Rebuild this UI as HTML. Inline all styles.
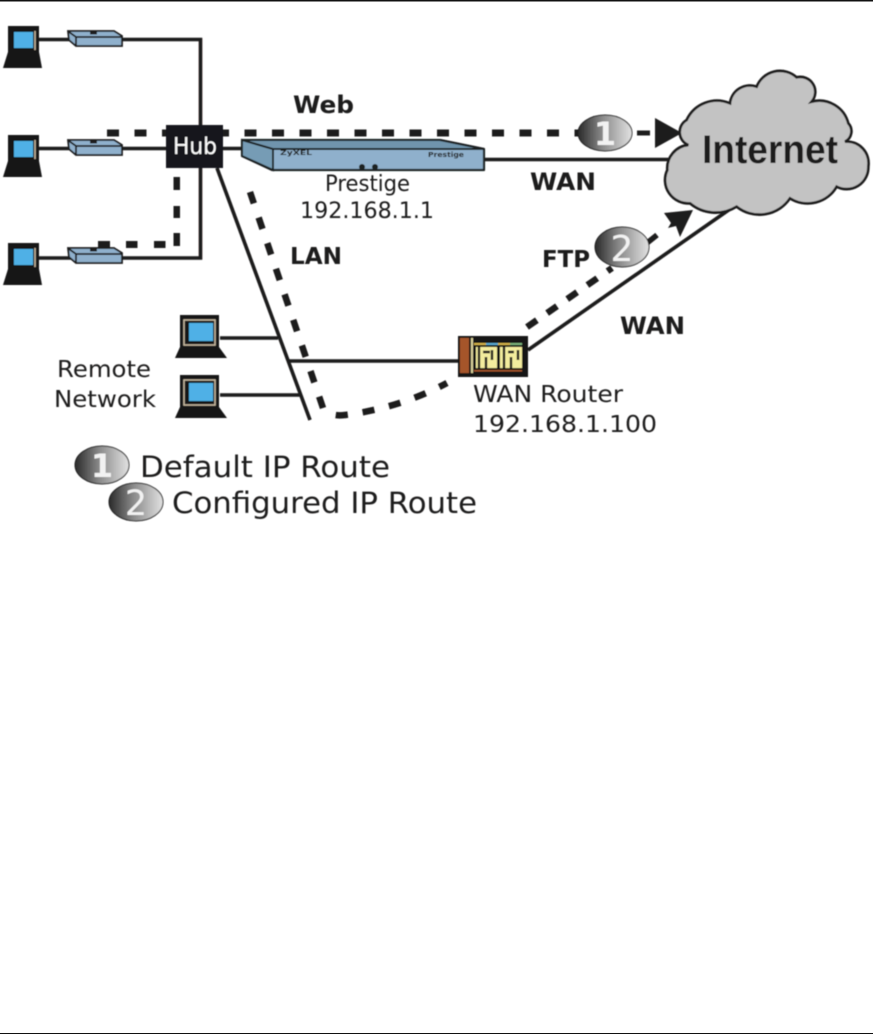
<!DOCTYPE html>
<html><head><meta charset="utf-8"><style>
html,body{margin:0;padding:0;background:#fff}
svg{display:block}
text{font-family:"DejaVu Sans","Liberation Sans",sans-serif;fill:#1c1a1a}
.b{font-weight:bold}
</style></head><body>
<svg width="873" height="1034" viewBox="0 0 873 1034" xmlns="http://www.w3.org/2000/svg">
<defs>
<filter id="s" x="-2%" y="-2%" width="104%" height="104%"><feGaussianBlur stdDeviation="0.4"/></filter>
<linearGradient id="ball" x1="0" x2="1" y1="0" y2="0"><stop offset="0" stop-color="#2a2a2a"/><stop offset="0.45" stop-color="#8a8a8a"/><stop offset="1" stop-color="#e2e2e2"/></linearGradient>
<g id="lap">
<path d="M8,26H39V52L42,68H3L8,52Z" fill="#141416"/>
<rect x="14" y="32" width="19" height="16" fill="#4fb0e6"/>
<path d="M35,31V50" stroke="#c8b9a0" stroke-width="1.5"/>
</g>
<g id="mod">
<path d="M68,31H114L122,36V46H76L69,40Z" fill="#8fb0cc" stroke="#1c1c1e" stroke-width="1.8"/>
<path d="M69,32L76,37H122M76,37V46" fill="none" stroke="#1c1c1e" stroke-width="1.8"/>
<rect x="90" y="31" width="7" height="3.5" fill="#1c1c1e"/>
</g>
<g id="bigl">
<path d="M5,0H44V32L52,43H0L5,32Z" fill="#141416"/>
<rect x="9" y="5" width="31" height="25" fill="none" stroke="#c8b9a0" stroke-width="1.5"/>
<rect x="14" y="8" width="24" height="18" fill="#4fb0e6"/>
</g>
</defs>
<rect width="873" height="1034" fill="#fff"/>
<rect x="0" y="0" width="873" height="1.5" fill="#111"/>
<rect x="0" y="1033" width="873" height="1" fill="#111"/>
<g filter="url(#s)">
<!-- solid links -->
<g fill="none" stroke="#1c1a1a" stroke-width="3.6">
<path d="M38,39.5H200.5V258H38"/>
<path d="M38,148.5H242"/>
<path d="M484,159.5H672"/>
<path d="M217,168L310,420"/>
<path d="M220,338H278"/>
<path d="M220,395H300"/>
<path d="M288,361H460"/>
<path d="M528,350L733,207"/>
</g>
<!-- dashed routes -->
<g fill="none" stroke="#1c1a1a" stroke-width="7">
<path d="M107,133H590" stroke-dasharray="12 15.5"/>
<path d="M637,133H650" stroke-width="5"/>
<path d="M250,192L323,408Q330,417 345,415Q400,408 447,383" stroke-dasharray="12 15" stroke-width="6.5"/>
<path d="M527,327L612,268" stroke-dasharray="12 12.5" stroke-width="6.5"/>
<path d="M647,243L657,235" stroke-width="5.5"/>
</g>
<g fill="#1c1a1a">
<rect x="173.500" y="177" width="6.5" height="13"/>
<rect x="173.500" y="206" width="6.5" height="12"/>
<rect x="173.500" y="233" width="6.5" height="13"/>
<rect x="126" y="241" width="11.500" height="7"/>
<rect x="154" y="241" width="11.500" height="7"/>
<rect x="98" y="241" width="12" height="9"/>
</g>
<path d="M655,118L682,133L655,148Z" fill="#1c1a1a"/>
<path d="M693,210L664,213L671,223L668,228L676,226L680,237Z" fill="#1c1a1a"/>
<!-- laptops -->
<use href="#lap"/>
<use href="#lap" y="109"/>
<use href="#lap" y="217"/>
<use href="#bigl" x="175" y="315"/>
<use href="#bigl" x="175" y="375"/>
<!-- modems -->
<use href="#mod"/>
<use href="#mod" y="109"/>
<use href="#mod" y="217"/>
<!-- hub -->
<rect x="166" y="125" width="57" height="43" fill="#14181a"/>
<text x="173" y="154" font-size="23" textLength="44" lengthAdjust="spacingAndGlyphs" style="fill:#fff">Hub</text>
<!-- Prestige -->
<path d="M242,140H440L484,149V170H272L242,156Z" fill="#8fb0cc" stroke="#1c2024" stroke-width="2.2" stroke-linejoin="round"/>
<path d="M242,140H440L484,149H273Z" fill="#6f94ad"/>
<path d="M242,140L273,149V170L242,156Z" fill="#769cb5" stroke="#1c2024" stroke-width="2"/>
<path d="M242,140H440L484,149H273" fill="none" stroke="#1c2024" stroke-width="2"/>
<circle cx="362" cy="167" r="3" fill="#1c2024"/>
<circle cx="375" cy="167" r="3" fill="#1c2024"/>
<text x="280" y="155" font-size="7" class="b" textLength="32" lengthAdjust="spacingAndGlyphs" style="fill:#222">ZyXEL</text>
<text x="428" y="157" font-size="7" class="b" textLength="36" lengthAdjust="spacingAndGlyphs" style="fill:#222">Prestige</text>
<!-- cloud -->
<g transform="translate(570,70) scale(0.3333)">
<path d="M292,300A70,70 0 0 1 355,225A42,42 0 0 1 350,150A100,100 0 0 1 480,100A60,60 0 0 1 560,50A75,75 0 0 1 680,22A45,45 0 0 1 725,95A90,90 0 0 1 835,160A35,35 0 0 1 825,215A65,65 0 0 1 895,290A65,65 0 0 1 800,350A100,100 0 0 1 660,385A110,110 0 0 1 500,410A120,120 0 0 1 360,400A70,70 0 0 1 292,300Z" fill="#c3c3c3" stroke="#1c1a1a" stroke-width="8"/>
</g>
<text x="702" y="163" font-size="40" textLength="136" lengthAdjust="spacingAndGlyphs" style="font-family:'Liberation Sans',sans-serif;font-weight:bold">Internet</text>
<!-- router -->
<rect x="458" y="336" width="70" height="41" fill="#141416"/>
<rect x="460" y="338" width="9" height="35" fill="#a5552b"/>
<rect x="471" y="338" width="2" height="35" fill="#d8cf9a"/>
<rect x="474" y="343" width="12" height="2" fill="#d2b04a"/>
<rect x="486" y="343" width="12" height="2" fill="#5aa8d0"/>
<rect x="498" y="343" width="12" height="2" fill="#d2b04a"/>
<rect x="510" y="343" width="12" height="2" fill="#7ab07a"/>
<rect x="476" y="347" width="21" height="21" fill="#f3ec9e"/>
<rect x="500" y="347" width="22" height="21" fill="#f3ec9e"/>
<path d="M479,347V368M483,352H490M486,357V368M492,350V360M504,347V368M508,352H514M511,357V368M518,350V360" stroke="#141416" stroke-width="2.4" fill="none"/>
<rect x="474" y="370" width="48" height="1.5" fill="#a5552b"/>
<!-- balls -->
<ellipse cx="605" cy="133" rx="27" ry="18" fill="url(#ball)" stroke="#222"/>
<text x="605" y="145" font-size="32" class="b" text-anchor="middle" style="fill:#f2f2f2">1</text>
<ellipse cx="622" cy="247" rx="27" ry="20" fill="url(#ball)" stroke="#222"/>
<text x="622" y="261" font-size="36" text-anchor="middle" style="fill:#f2f2f2">2</text>
<ellipse cx="102" cy="465" rx="27" ry="19" fill="url(#ball)" stroke="#222"/>
<text x="102" y="477" font-size="32" class="b" text-anchor="middle" style="fill:#f2f2f2">1</text>
<ellipse cx="136" cy="502" rx="27" ry="19" fill="url(#ball)" stroke="#222"/>
<text x="136" y="515" font-size="35" text-anchor="middle" style="fill:#f2f2f2">2</text>
<!-- labels -->
<text x="293" y="113" font-size="24" class="b" textLength="61" lengthAdjust="spacingAndGlyphs">Web</text>
<text x="325" y="191" font-size="22" textLength="85" lengthAdjust="spacingAndGlyphs">Prestige</text>
<text x="300" y="218" font-size="22" textLength="134" lengthAdjust="spacingAndGlyphs">192.168.1.1</text>
<text x="530" y="190" font-size="24" class="b" textLength="66" lengthAdjust="spacingAndGlyphs">WAN</text>
<text x="290" y="264" font-size="23" class="b" textLength="52" lengthAdjust="spacingAndGlyphs">LAN</text>
<text x="542" y="267" font-size="23" class="b" textLength="48" lengthAdjust="spacingAndGlyphs">FTP</text>
<text x="620" y="334" font-size="24" class="b" textLength="65" lengthAdjust="spacingAndGlyphs">WAN</text>
<text x="473" y="402" font-size="23" textLength="150" lengthAdjust="spacingAndGlyphs">WAN Router</text>
<text x="473" y="432" font-size="23" textLength="184" lengthAdjust="spacingAndGlyphs">192.168.1.100</text>
<text x="57" y="377" font-size="23" textLength="94" lengthAdjust="spacingAndGlyphs">Remote</text>
<text x="54" y="407" font-size="23" textLength="102" lengthAdjust="spacingAndGlyphs">Network</text>
<text x="140" y="477" font-size="29" textLength="250" lengthAdjust="spacingAndGlyphs">Default IP Route</text>
<text x="172" y="513" font-size="29" textLength="305" lengthAdjust="spacingAndGlyphs">Configured IP Route</text>
</g>
</svg>
</body></html>
